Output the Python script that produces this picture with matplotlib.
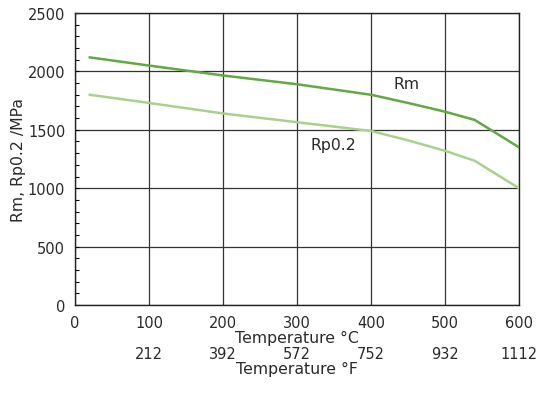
import matplotlib
matplotlib.use("Agg")
import matplotlib.pyplot as plt
from matplotlib.ticker import MultipleLocator

plt.rcParams['font.family'] = ['DejaVu Sans']

temp_c = [20, 100, 200, 300, 400, 450, 500, 540, 600]
rm = [2120, 2050, 1965, 1890, 1800, 1730, 1655, 1585, 1350]
rp02 = [1800, 1730, 1640, 1565, 1490, 1410, 1320, 1235, 1000]
f_ticks_c = [100, 200, 300, 400, 500, 600]
f_labels = ['212', '392', '572', '752', '932', '1112']

txt = '#2a2a2a'
fs = 10.5
fl = 11.3

fig = plt.figure(figsize=(5.4, 4.1), dpi=100)
ax = fig.add_axes([75/540, 1-306/410, (519-75)/540, (306-14)/410])

ax.plot(temp_c, rm, color='#62a845', lw=1.8, zorder=3)
ax.plot(temp_c, rp02, color='#a9d18e', lw=1.8, zorder=3)

ax.set_xlim(0, 600)
ax.set_ylim(0, 2500)
ax.xaxis.set_major_locator(MultipleLocator(100))
ax.yaxis.set_major_locator(MultipleLocator(500))
ax.yaxis.set_minor_locator(MultipleLocator(100))
ax.grid(True, which='major', color='#333333', lw=0.9)
ax.tick_params(axis='y', which='both', direction='in', length=3, width=0.8,
               labelsize=fs, pad=7, labelcolor=txt)
ax.tick_params(axis='x', which='both', length=0, labelsize=fs, pad=7, labelcolor=txt)
for s in ax.spines.values():
    s.set_color('#222222')
    s.set_linewidth(1.0)

ax.set_xlabel('Temperature °C', fontsize=fl, labelpad=0, color=txt)
ax.set_ylabel('Rm, Rp0.2 /MPa', fontsize=fl, labelpad=1.5, color=txt)

ax.text(448, 1900, 'Rm', fontsize=fl, ha='center', va='center', color=txt)
ax.text(349, 1370, 'Rp0.2', fontsize=fl, ha='center', va='center', color=txt)

sec = ax.secondary_xaxis(-0.14)
sec.set_xticks(f_ticks_c)
sec.set_xticklabels(f_labels)
sec.tick_params(length=0, labelsize=fs, pad=0, labelcolor=txt)
sec.spines['bottom'].set_visible(False)
sec.set_xlabel('Temperature °F', fontsize=fl, labelpad=0, color=txt)

fig.savefig('out.png', dpi=100)
